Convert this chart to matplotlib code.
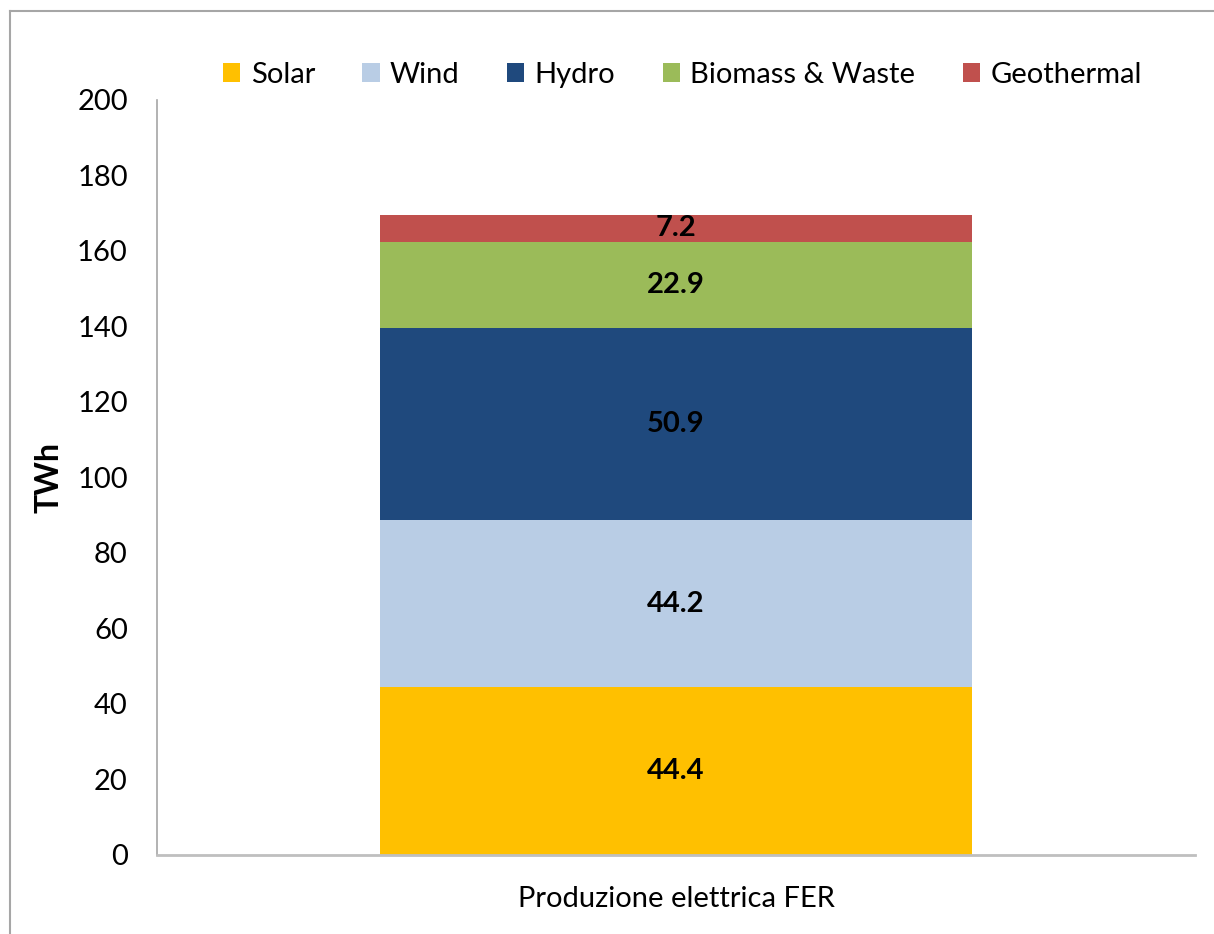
import matplotlib
matplotlib.use("Agg")
import matplotlib.pyplot as plt
from matplotlib.patches import Patch
from matplotlib.lines import Line2D

plt.rcParams['font.family'] = ['Lato', 'DejaVu Sans']

# Renewable electricity production (TWh) by source
category = ["Produzione elettrica FER"]
sources = ["Solar", "Wind", "Hydro", "Biomass & Waste", "Geothermal"]
values = [44.4, 44.2, 50.9, 22.9, 7.2]
colors = ["#FFC000", "#B9CDE5", "#1F497D", "#9BBB59", "#C0504D"]
yticks = [0, 20, 40, 60, 80, 100, 120, 140, 160, 180, 200]

fig = plt.figure(figsize=(12.14, 9.34), dpi=100)
ax = fig.add_axes([0.1293, 0.0846, 0.855, 0.8084])

bottom = 0.0
for name, val, col in zip(sources, values, colors):
    ax.bar(0, val, width=0.571, bottom=bottom, color=col, label=name,
           edgecolor='none')
    ax.text(0, bottom + val / 2, f"{val:.1f}", ha='center', va='center',
            fontsize=21, fontweight='bold', color='black')
    bottom += val

ax.set_xlim(-0.5, 0.5)
ax.set_ylim(0, 200)
ax.set_yticks(yticks)
ax.set_yticklabels([str(t) for t in yticks], fontsize=21)
ax.set_xticks([0])
ax.set_xticklabels(category, fontsize=21)
ax.tick_params(axis='y', length=0, pad=21)
ax.tick_params(axis='x', length=0, pad=22)
ax.set_ylabel("TWh", fontsize=23, fontweight='bold', labelpad=10)

for s in ['top', 'right']:
    ax.spines[s].set_visible(False)
ax.spines['left'].set_color('#A6A6A6')
ax.spines['left'].set_linewidth(1.2)
ax.spines['bottom'].set_color('#BFBFBF')
ax.spines['bottom'].set_linewidth(2)

handles = [Patch(facecolor=c, edgecolor='none', label=n) for n, c in zip(sources, colors)]
fig.legend(handles=handles, loc='center', bbox_to_anchor=(0.562, 0.92), ncol=5,
           frameon=False, fontsize=21, handlelength=0.6, handleheight=0.6,
           handletextpad=0.35, columnspacing=1.62)

# Chart frame along the left and top edges
fig.add_artist(Line2D([10 / 1214, 10 / 1214], [0, 1 - 11 / 934], transform=fig.transFigure,
                      color='#A6A6A6', linewidth=1.5))
fig.add_artist(Line2D([10 / 1214, 1], [1 - 11 / 934, 1 - 11 / 934], transform=fig.transFigure,
                      color='#A6A6A6', linewidth=1.5))

fig.savefig("out.png", dpi=100)
